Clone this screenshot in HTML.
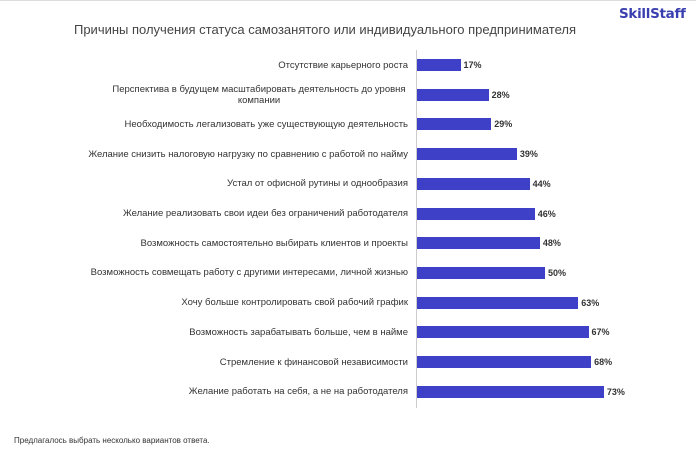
<!DOCTYPE html>
<html><head><meta charset="utf-8"><style>
body{margin:0;width:696px;height:462px;background:#fff;font-family:"Liberation Sans",Arial,sans-serif;position:relative;overflow:hidden}
.t{position:absolute;left:0;width:650px;top:22px;text-align:center;font-size:13px;color:#444}
.logo{position:absolute;left:619px;top:6px;font-weight:bold;font-size:13.5px;color:#3a3fb0;font-family:"DejaVu Sans",sans-serif;letter-spacing:-0.3px}
.l{position:absolute;right:288px;font-size:9.5px;color:#333;text-align:right;line-height:11px;width:330px}
.b{position:absolute;left:417px;height:12px;background:#3e41c8}
.v{position:absolute;font-size:9px;font-weight:bold;color:#333}
.ax{position:absolute;left:416px;top:50px;width:1px;height:358px;background:#ccc}
.f{position:absolute;left:14px;top:436px;font-size:8px;color:#333}
.top{position:absolute;left:0;top:0;width:696px;height:1px;background:#ddd}
</style></head><body>
<div class="top"></div>
<div class="t">Причины получения статуса самозанятого или индивидуального предпринимателя</div>
<div class="logo">SkillStaff</div>
<div class="ax"></div>
<div id="c"></div>
<div class="f">Предлагалось выбрать несколько вариантов ответа.</div>
<script>
var d=[["Отсутствие карьерного роста",17],["Перспектива в будущем масштабировать деятельность до уровня<br>компании",28],["Необходимость легализовать уже существующую деятельность",29],["Желание снизить налоговую нагрузку по сравнению с работой по найму",39],["Устал от офисной рутины и однообразия",44],["Желание реализовать свои идеи без ограничений работодателя",46],["Возможность самостоятельно выбирать клиентов и проекты",48],["Возможность совмещать работу с другими интересами, личной жизнью",50],["Хочу больше контролировать свой рабочий график",63],["Возможность зарабатывать больше, чем в найме",67],["Стремление к финансовой независимости",68],["Желание работать на себя, а не на работодателя",73]];
var h="";d.forEach(function(r,i){var c=65+i*29.7,w=r[1]*2.56,two=r[0].indexOf("<br>")>0;
h+='<div class="l" style="top:'+(c-(two?11:5.5))+'px'+(two?';text-align:center;right:auto;left:100px;width:318px;white-space:nowrap':'')+'">'+r[0]+'</div><div class="b" style="top:'+(c-6)+'px;width:'+w+'px"></div><div class="v" style="top:'+(c-5)+'px;left:'+(420+w)+'px">'+r[1]+'%</div>';});
document.getElementById("c").innerHTML=h;
</script>
</body></html>
